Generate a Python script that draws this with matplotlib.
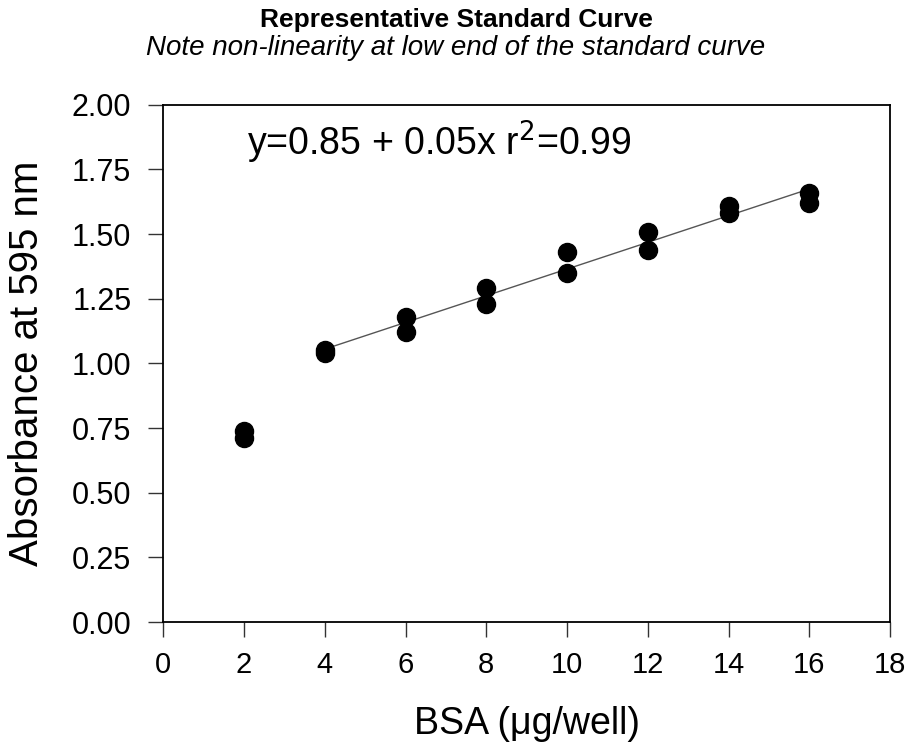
import matplotlib

matplotlib.use("Agg")
import matplotlib.pyplot as plt
import numpy as np

plt.rcParams["font.family"] = ["Liberation Sans", "DejaVu Sans"]

# BSA amount (ug/well) and duplicate absorbance readings
bsa = [2, 2, 4, 4, 6, 6, 8, 8, 10, 10, 12, 12, 14, 14, 16, 16]
absorbance = [0.74, 0.71, 1.05, 1.04, 1.18, 1.12, 1.29, 1.23,
              1.43, 1.35, 1.51, 1.44, 1.61, 1.58, 1.66, 1.62]

x_ticks = [0, 2, 4, 6, 8, 10, 12, 14, 16, 18]
y_ticks = [0.00, 0.25, 0.50, 0.75, 1.00, 1.25, 1.50, 1.75, 2.00]

x = np.array(bsa, dtype=float)
y = np.array(absorbance)
lin = x >= 4
slope, intercept = np.polyfit(x[lin], y[lin], 1)
fit_x = np.array([4.0, 16.0])
fit_y = intercept + slope * fit_x

fig = plt.figure(figsize=(9.12, 7.54), dpi=100)
ax = fig.add_axes([0.179, 0.175, 0.797, 0.686])

ax.plot(fit_x, fit_y, color="#555555", linewidth=1.0, zorder=2)
ax.plot(x, y, "o", color="black", markersize=13, zorder=3)

ax.set_xlim(0, 18)
ax.set_ylim(0, 2)
ax.set_xticks(x_ticks)
ax.set_yticks(y_ticks)
ax.set_yticklabels([f"{v:.2f}" for v in y_ticks])
ax.tick_params(direction="out", length=11, width=1.0, color="#333333")
ax.tick_params(axis="x", labelsize=21, pad=10)
ax.tick_params(axis="y", labelsize=22, pad=12)
for spine in ax.spines.values():
    spine.set_linewidth(1.3)

ax.set_xlabel("BSA (\u03bcg/well)", fontsize=27, va="center")
ax.set_ylabel("Absorbance at 595 nm", fontsize=29, va="center")
ax.xaxis.set_label_coords(0.5, -0.197)
ax.yaxis.set_label_coords(-0.187, 0.5)

ax.text(2.08, 1.855, "y=0.85 + 0.05x r$^{2}$=0.99", fontsize=27, va="center",
        ha="left")

fig.text(0.5, 0.973, "Representative Standard Curve", fontsize=19,
         fontweight="bold", ha="center", va="center")
fig.text(0.5, 0.937, "Note non-linearity at low end of the standard curve",
         fontsize=20, style="italic", ha="center", va="center")

fig.savefig("out.png", dpi=100)
